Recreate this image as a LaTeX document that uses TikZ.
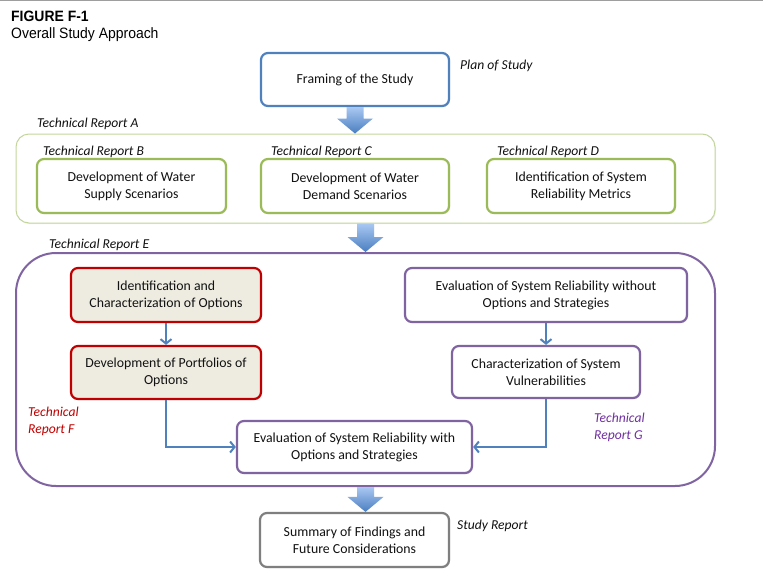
\documentclass[tikz,border=0pt]{standalone}
\usepackage{fontspec}
\setmainfont{Carlito}
\newfontfamily\titlefont{Liberation Sans}[FakeStretch=0.93]
\usetikzlibrary{calc,arrows.meta,shadows}
\definecolor{cblue}{HTML}{4F81BD}
\definecolor{cgreen}{HTML}{9BBB59}
\definecolor{cgreenlt}{HTML}{C3D69B}
\definecolor{cpurple}{HTML}{8064A2}
\definecolor{cred}{HTML}{C00000}
\definecolor{cbeige}{HTML}{EEECE1}
\definecolor{cgrey}{HTML}{7F7F7F}
\definecolor{ctxt}{HTML}{111111}
\definecolor{cpurtxt}{HTML}{7030A0}
\definecolor{arrtop}{HTML}{A9C8F2}
\definecolor{arrbot}{HTML}{4A7EC0}
\tikzset{
  x=1pt, y=-1pt,
  boxtext/.style={font=\fontsize{13.8}{17}\selectfont, text=ctxt, align=center},
  procbox/.style={boxtext, draw, line width=2.2pt, rounded corners=7pt, fill=white,
    minimum height=53pt, inner sep=0pt,
    drop shadow={opacity=0.18, shadow xshift=1pt, shadow yshift=-1.2pt}},
  bluebox/.style={procbox, draw=cblue},
  greenbox/.style={procbox, draw=cgreen},
  redbox/.style={procbox, draw=cred, fill=cbeige},
  purbox/.style={procbox, draw=cpurple},
  greybox/.style={procbox, draw=cgrey},
  replabel/.style={font=\fontsize{13.6}{17}\selectfont\itshape, text=ctxt, anchor=west, inner sep=0pt, align=left},
  conn/.style={draw=cblue, line width=2.8pt, -{Straight Barb[length=4.5pt,width=11pt,line width=2pt]}},
  blockarr/.style={top color=arrtop, bottom color=arrbot, draw=none}
}
\newcommand\bigarrow[2]{%
  \path[blockarr] let \p1=(#1), \p2=(#2) in
    (\x1-8.5pt,\y1) -- (\x1+8.5pt,\y1) -- (\x1+8.5pt,\y2+15pt) -- (\x1+18pt,\y2+15pt)
    -- (\x1,\y2) -- (\x1-18pt,\y2+15pt) -- (\x1-8.5pt,\y2+15pt) -- cycle;}
\begin{document}
\begin{tikzpicture}
\useasboundingbox (0,0) rectangle (763,584);
\fill[white] (0,0) rectangle (763,584);
\draw[color=black!38, line width=1.5pt] (0,0.7) -- (763,0.7);

% title
\node[anchor=west, inner sep=0pt, font=\titlefont\fontsize{15}{17}\selectfont\bfseries] (fig) at (11,16) {FIGURE F-1};
\node[anchor=west, inner sep=0pt, font=\titlefont\fontsize{15}{17}\selectfont] (ttl) at (11,35) {Overall Study Approach};

% framing
\node[bluebox, minimum width=188pt] (frame) at (355,79.5) {Framing of the Study};
\node[replabel] (lplan) at (460,66) {Plan of Study};

% Technical report A container
\node[draw=cgreenlt, line width=1pt, rounded corners=13pt, minimum width=699pt, minimum height=89pt, inner sep=0pt,
  drop shadow={opacity=0.12, shadow xshift=1pt, shadow yshift=-1.2pt}, fill=white] (repA) at (365.5,178.5) {};
\node[replabel] (lA) at (37,124) {Technical Report A};

\node[greenbox, minimum width=189pt, minimum height=54pt] (supply) at (131.5,186) {Development of Water\\Supply Scenarios};
\node[greenbox, minimum width=188pt, minimum height=54pt] (demand) at (355,186) {Development of Water\\Demand Scenarios};
\node[greenbox, minimum width=188pt, minimum height=54pt] (metrics) at (581,186) {Identification of System\\Reliability Metrics};
\node[replabel] (lB) at (43,152) {Technical Report B};
\node[replabel] (lC) at (271,152) {Technical Report C};
\node[replabel] (lD) at (497,152) {Technical Report D};

% Technical report E container
\node[draw=cpurple, line width=2pt, rounded corners=40pt, minimum width=699pt, minimum height=233pt, inner sep=0pt] (repE) at (365.5,369.5) {};
\node[replabel] (lE) at (49,245) {Technical Report E};

\node[redbox, minimum width=190pt, minimum height=54pt] (ident) at (166,295) {Identification and\\Characterization of Options};
\node[redbox, minimum width=190pt, minimum height=53pt] (portf) at (166,372.5) {Development of Portfolios of\\Options};
\node[purbox, minimum width=282pt, minimum height=54pt] (evalwo) at (546,295) {Evaluation of System Reliability without\\Options and Strategies};
\node[purbox, minimum width=188pt, minimum height=52pt] (charv) at (546,372) {Characterization of System\\Vulnerabilities};
\node[purbox, minimum width=235pt, minimum height=52pt] (evalw) at (354.5,447) {Evaluation of System Reliability with\\Options and Strategies};

\node[replabel, text=cred] (lF) at (28,421) {Technical\\Report F};
\node[replabel, text=cpurtxt] (lG) at (594,427.5) {Technical\\Report G};

\draw[conn] (ident.south) -- (portf.north);
\draw[conn] (evalwo.south) -- (charv.north);
\draw[conn] (portf.south) |- (evalw.west);
\draw[conn] (charv.south) |- (evalw.east);

% summary
\node[greybox, minimum width=189pt, minimum height=54pt] (summ) at (354.5,540) {Summary of Findings and\\Future Considerations};
\node[replabel] (lS) at (457,526) {Study Report};

% block arrows
\bigarrow{frame.south}{repA.north}
\bigarrow{repA.south}{repE.north}
\bigarrow{repE.south}{summ.north}
\end{tikzpicture}
\end{document}
